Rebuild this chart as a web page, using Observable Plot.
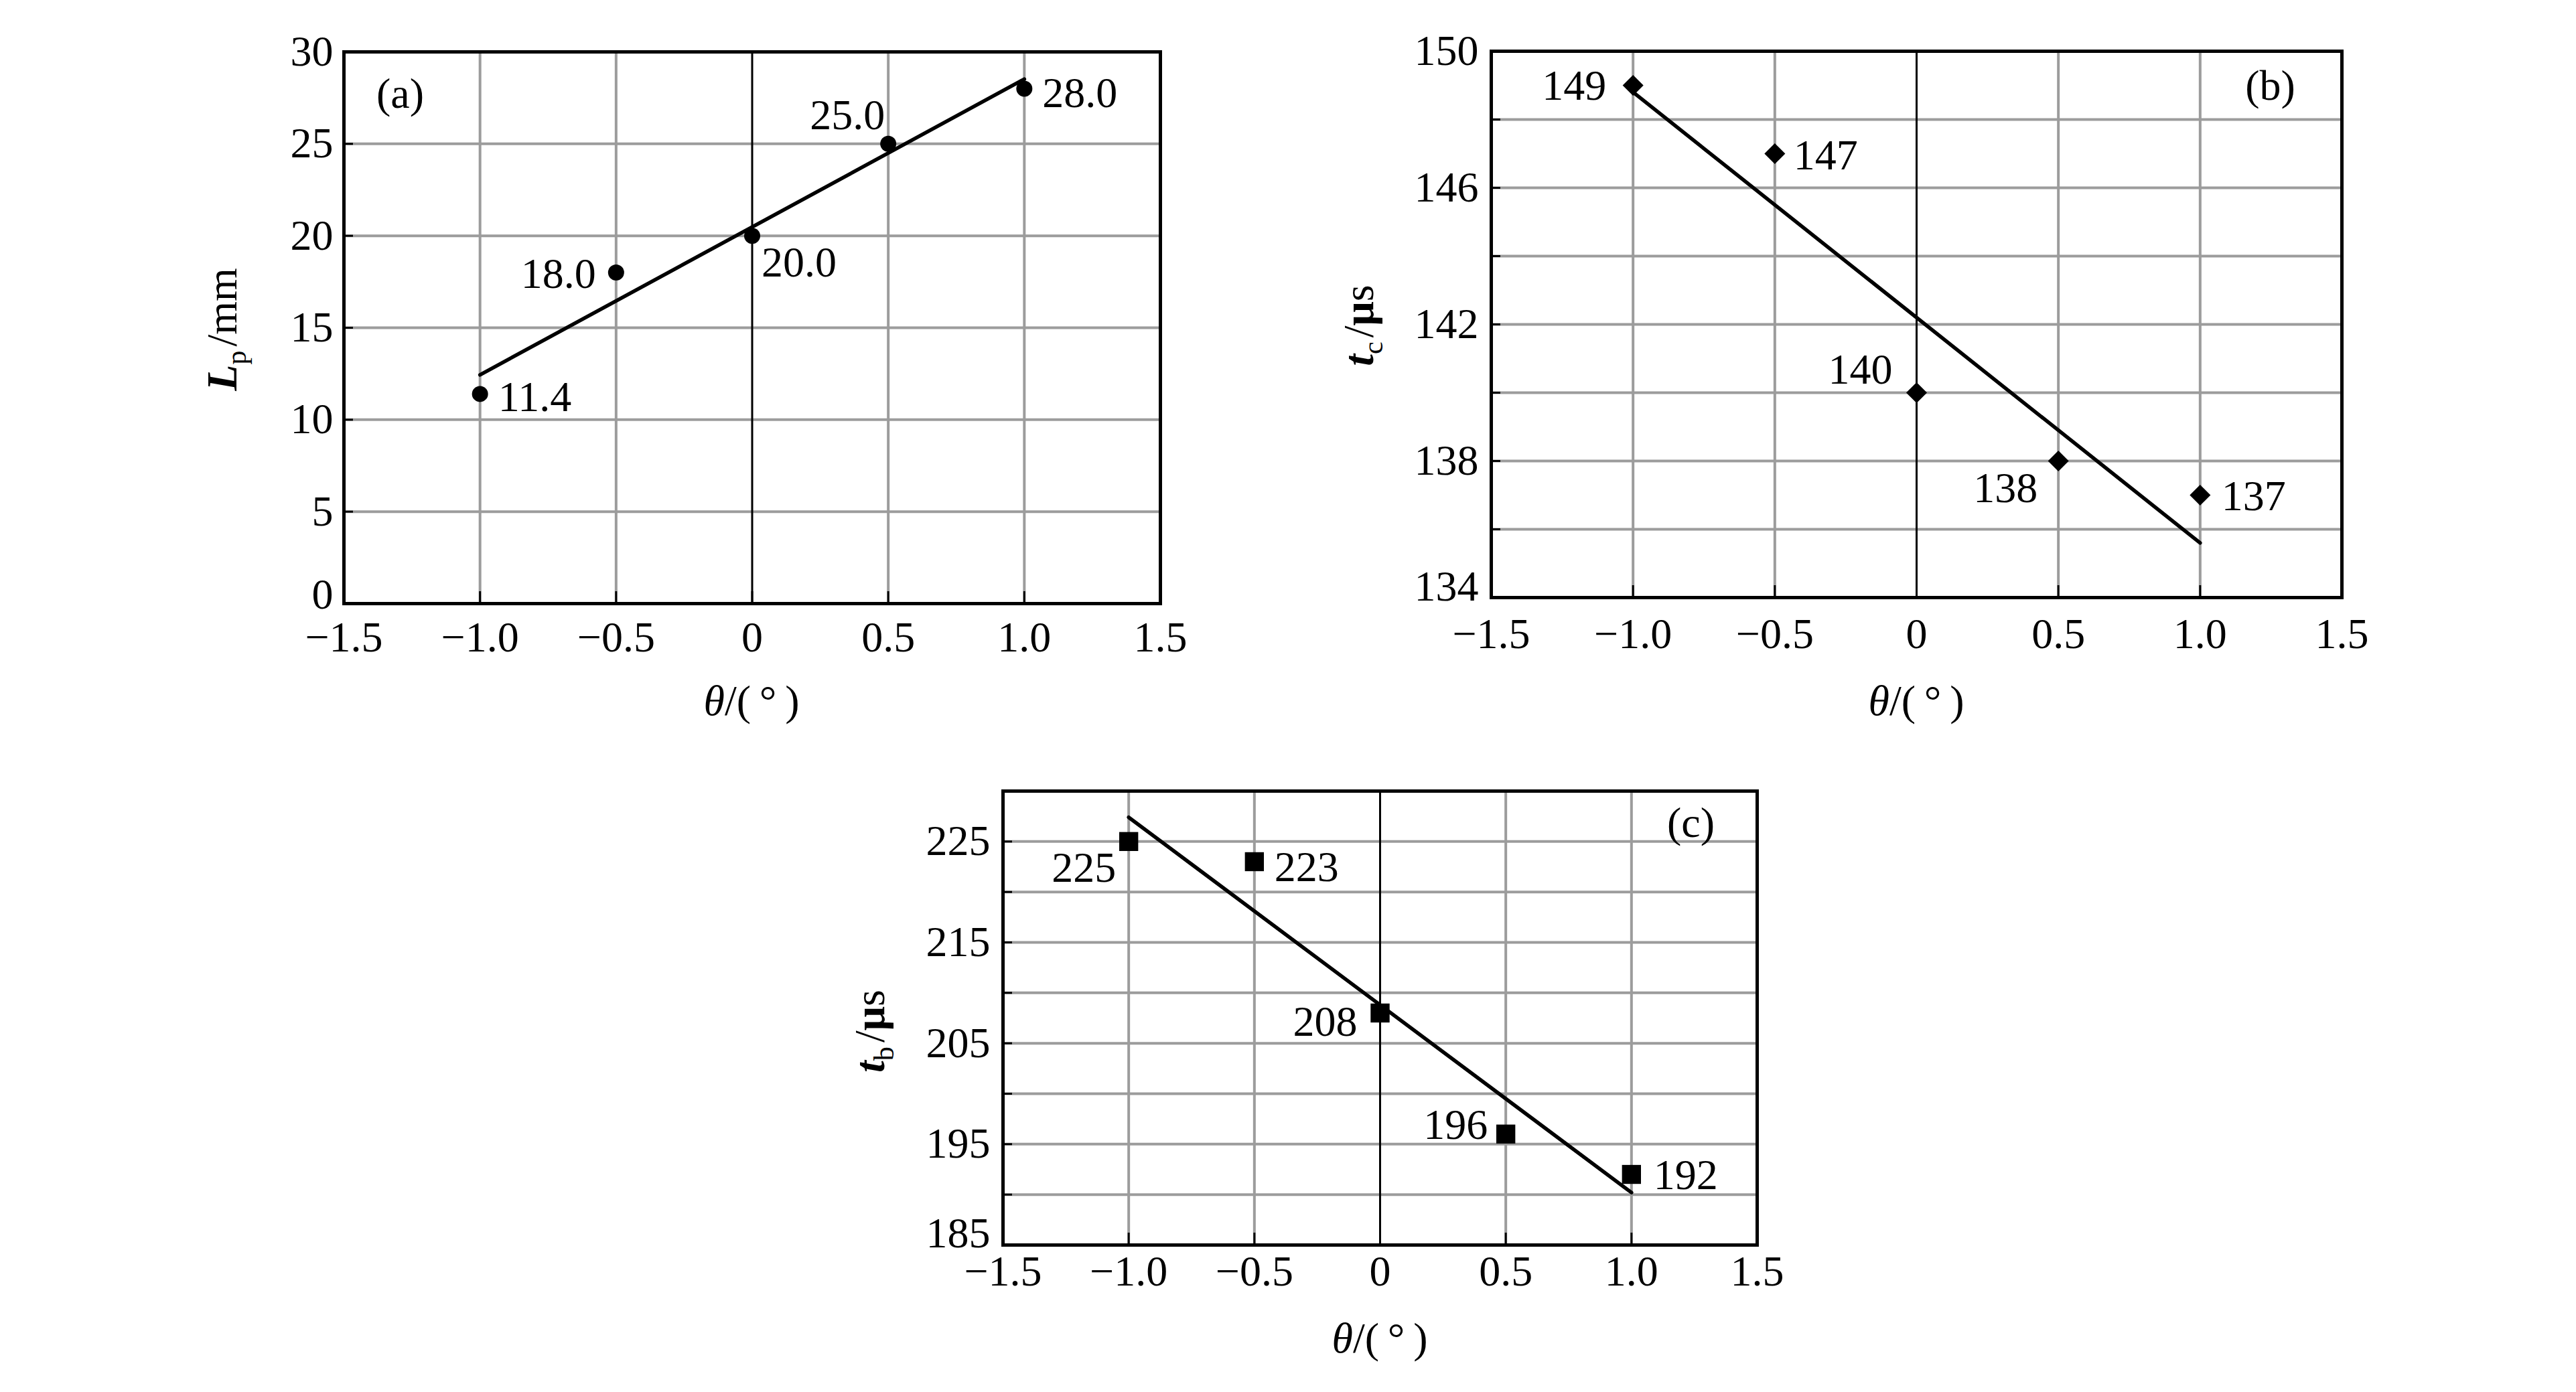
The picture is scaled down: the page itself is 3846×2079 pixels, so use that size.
<!DOCTYPE html>
<html><head><meta charset="utf-8">
<script src="https://cdn.jsdelivr.net/npm/d3@7"></script>
<script src="https://cdn.jsdelivr.net/npm/@observablehq/plot@0.6"></script>
<style>
html,body{margin:0;padding:0;background:#fff;}
#fig{position:relative;width:3846px;height:2079px;background:#fff;overflow:hidden;}
#fig svg{position:absolute;}
</style></head><body><div id="fig"></div>
<script>
// ---------- data ----------
const theta = [-1.0, -0.5, 0, 0.5, 1.0];
const Lp = [11.4, 18.0, 20.0, 25.0, 28.0];
const tc = [149, 147, 140, 138, 137];
const tb = [225, 223, 208, 196, 192];
const LpLabels = ["11.4", "18.0", "20.0", "25.0", "28.0"];
const tcLabels = ["149", "147", "140", "138", "137"];
const tbLabels = ["225", "223", "208", "196", "192"];
const xTicks = [-1.5, -1.0, -0.5, 0, 0.5, 1.0, 1.5];
const xTickLabels = ["\u22121.5", "\u22121.0", "\u22120.5", "0", "0.5", "1.0", "1.5"];
const xGrid = [-1.0, -0.5, 0.5, 1.0];
const yTicksA = [0, 5, 10, 15, 20, 25, 30];
const yLabelsA = [0, 5, 10, 15, 20, 25, 30];
const yTicksB = [134, 136, 138, 140, 142, 144, 146, 148, 150];
const yLabelsB = [134, 138, 142, 146, 150];
const yTicksC = [185, 190, 195, 200, 205, 210, 215, 220, 225, 230];
const yLabelsC = [185, 195, 205, 215, 225];
const panelNames = ["(a)", "(b)", "(c)"];

// ---------- layout / style (not data) ----------
const FONT = "'Liberation Serif','Times New Roman','DejaVu Serif',serif";
const FS = 64;
const GRID = "#9c9c9c";

const panels = [
  {
    name: panelNames[0], values: Lp, labels: LpLabels, yDomain: [0, 30],
    yTicks: yTicksA, yLabels: yLabelsA, symbol: "circle", r: 12,
    box: {left: 0, top: 0, width: 1850, height: 1100, mL: 513, mR: 118, mT: 77, mB: 199},
    xPad: 44, yPad: 30, bottomLift: -13,
    place: [["start", 27, 5], ["end", -30, 2], ["start", 14, 40], ["end", -5, -42], ["start", 27, 7]],
    nameAnchor: "top-left", nameDx: 84, nameDy: 63,
    xTitle: {x: 1122, y: 1068},
    yTitle: {x: 353, y: 492, main: "L", sub: "p", rest: "/mm", restBold: false}
  },
  {
    name: panelNames[1], values: tc, labels: tcLabels, yDomain: [134, 150],
    yTicks: yTicksB, yLabels: yLabelsB, symbol: "diamond2", r: 14,
    box: {left: 1900, top: 0, width: 1900, height: 1100, mL: 326, mR: 304, mT: 76, mB: 208},
    xPad: 48, yPad: 33, bottomLift: -16,
    place: [["end", -40, 1], ["start", 28, 3], ["end", -36, -34], ["end", -31, 41], ["start", 32, 2]],
    nameAnchor: "top-right", nameDx: -107, nameDy: 52,
    xTitle: {x: 961, y: 1068},
    yTitle: {x: 150, y: 486, main: "t", sub: "c", rest: "/\u03bcs", restBold: true}
  },
  {
    name: panelNames[2], values: tb, labels: tbLabels, yDomain: [185, 230],
    yTicks: yTicksC, yLabels: yLabelsC, symbol: "square", r: 16,
    box: {left: 1000, top: 1100, width: 1800, height: 979, mL: 497, mR: 177, mT: 81, mB: 220},
    xPad: 33, yPad: 33, bottomLift: -17,
    place: [["end", -19, 40], ["start", 30, 9], ["end", -34, 14], ["end", -27, -13], ["start", 33, 1]],
    nameAnchor: "top-right", nameDx: -99, nameDy: 48,
    xTitle: {x: 1060, y: 920},
    yTitle: {x: 320, y: 440, main: "t", sub: "b", rest: "/\u03bcs", restBold: true}
  }
];

const fig = document.getElementById("fig");

for (const p of panels) {
  const data = theta.map((t, i) => ({theta: t, v: p.values[i], label: p.labels[i]}));
  const b = p.box;
  const yMin = p.yDomain[0];
  const labelMarks = p.place.map(([anchor, dx, dy], k) =>
    Plot.text(data, {
      filter: (d, i) => i === k, x: "theta", y: "v", text: "label",
      textAnchor: anchor, dx, dy, fill: "black", fontSize: FS
    })
  );
  const svg = Plot.plot({
    width: b.width, height: b.height,
    marginLeft: b.mL, marginRight: b.mR, marginTop: b.mT, marginBottom: b.mB,
    x: {domain: [-1.5, 1.5], label: null},
    y: {domain: p.yDomain, label: null},
    style: {fontFamily: FONT, fontSize: FS + "px", background: "transparent", overflow: "visible", maxWidth: "none"},
    marks: [
      Plot.gridX(xGrid, {stroke: GRID, strokeOpacity: 1, strokeWidth: 4}),
      Plot.gridY(p.yTicks.filter(v => v !== p.yDomain[0] && v !== p.yDomain[1]), {stroke: GRID, strokeOpacity: 1, strokeWidth: 4}),
      Plot.ruleX([0], {stroke: "black", strokeWidth: 3}),
      Plot.linearRegressionY(data, {x: "theta", y: "v", stroke: "black", strokeWidth: 5.5, ci: 0}),
      Plot.dot(data, {x: "theta", y: "v", symbol: p.symbol, r: p.r, fill: "black", stroke: "none"}),
      ...labelMarks,
      Plot.text([p.name], {frameAnchor: p.nameAnchor, dx: p.nameDx, dy: p.nameDy, textAnchor: "middle", lineAnchor: "middle", fontSize: FS, fill: "black"}),
      Plot.frame({stroke: "black", strokeWidth: 5}),
      Plot.axisX({
        ticks: xTicks, tickFormat: d => xTickLabels[xTicks.indexOf(d)],
        tickSize: -18, tickPadding: p.xPad, strokeWidth: 3, color: "black",
        fontSize: FS, label: null
      }),
      Plot.axisY({
        ticks: p.yTicks, tickFormat: d => (d !== yMin && p.yLabels.includes(d) ? String(d) : ""),
        tickSize: -14, tickPadding: p.yPad, strokeWidth: 3, color: "black",
        fontSize: FS, label: null
      }),
      Plot.axisY({
        ticks: [yMin], tickFormat: d => String(d),
        tickSize: 0, tickPadding: p.yPad - 14, dy: p.bottomLift, color: "black",
        fontSize: FS, label: null
      })
    ]
  });
  svg.style.left = b.left + "px";
  svg.style.top = b.top + "px";
  svg.style.position = "absolute";

  const s = d3.select(svg);
  // x title: θ/( ° )
  const xt = s.append("text")
    .attr("x", p.xTitle.x).attr("y", p.xTitle.y)
    .attr("text-anchor", "middle")
    .attr("font-family", FONT).attr("font-size", FS).attr("fill", "black");
  xt.append("tspan").attr("font-style", "italic").text("\u03b8");
  xt.append("tspan").text("/(\u2009\u00b0\u2009)");

  // y title, rotated
  const yt = s.append("text")
    .attr("transform", `translate(${p.yTitle.x},${p.yTitle.y}) rotate(-90)`)
    .attr("text-anchor", "middle")
    .attr("font-family", FONT).attr("font-size", FS).attr("fill", "black");
  yt.append("tspan").attr("font-style", "italic").attr("font-weight", "bold").text(p.yTitle.main);
  yt.append("tspan").attr("font-size", FS * 0.66).attr("dy", 14).text(p.yTitle.sub);
  const rest = yt.append("tspan").attr("dy", -14).attr("dx", 6);
  if (p.yTitle.restBold) {
    rest.text("/");
    yt.append("tspan").attr("font-weight", "bold").text("\u03bc");
    yt.append("tspan").text("s");
  } else {
    rest.text(p.yTitle.rest);
  }

  fig.appendChild(svg);
}
</script>
</body></html>
